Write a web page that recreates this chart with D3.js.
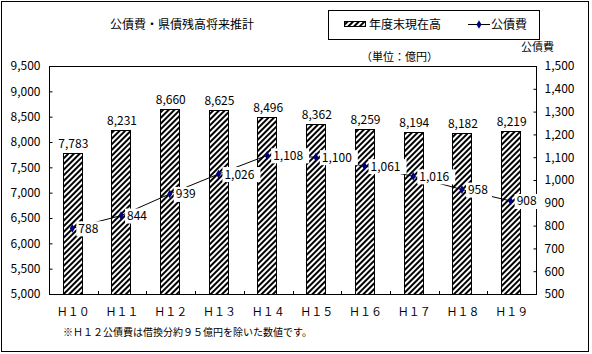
<!DOCTYPE html>
<html lang="ja">
<head>
    <meta charset="UTF-8">
    <title>公債費・県債残高将来推計</title>
    <script src="https://d3js.org/d3.v7.min.js"></script>
    <style>
        body {margin: 0; background: #fff;}
        text {
            font-family: "Noto Sans CJK JP", sans-serif;
            fill: #000;
        }
    </style>
</head>
<body>
<script>
    const width = 592;
    const height = 354;

    // data
    const years = ["Ｈ１０", "Ｈ１１", "Ｈ１２", "Ｈ１３", "Ｈ１４", "Ｈ１５", "Ｈ１６", "Ｈ１７", "Ｈ１８", "Ｈ１９"];
    const balance = [7783, 8231, 8660, 8625, 8496, 8362, 8259, 8194, 8182, 8219];   // 年度末現在高
    const debtCost = [788, 844, 939, 1026, 1108, 1100, 1061, 1016, 958, 908];       // 公債費
    const leftTicks = d3.range(5000, 9501, 500);
    const rightTicks = d3.range(500, 1501, 100);

    const plot = {left: 49, right: 536, top: 66, bottom: 294};

    const svg = d3.select("body").append("svg")
            .attr("width", width).attr("height", height);

    // hatch pattern
    const defs = svg.append("defs");
    defs.append("pattern")
            .attr("id", "hatch")
            .attr("patternUnits", "userSpaceOnUse")
            .attr("width", 4).attr("height", 4)
            .attr("patternTransform", "rotate(45)")
            .call(p => {
                p.append("rect").attr("width", 4).attr("height", 4).attr("fill", "#fff");
                p.append("line").attr("x1", 1).attr("y1", 0).attr("x2", 1).attr("y2", 4)
                        .attr("stroke", "#000").attr("stroke-width", 2);
            });

    // outer border
    svg.append("rect")
            .attr("x", 1.5).attr("y", 1.5)
            .attr("width", 587).attr("height", 350)
            .attr("fill", "none").attr("stroke", "#000");

    const x = d3.scaleBand().domain(years).range([plot.left, plot.right]);
    const yL = d3.scaleLinear().domain([5000, 9500]).range([plot.bottom, plot.top]);
    const yR = d3.scaleLinear().domain([500, 1500]).range([plot.bottom, plot.top]);
    const barW = x.bandwidth() * 0.4;
    const cx = d => x(d) + x.bandwidth() / 2;

    // title
    svg.append("text").attr("x", 110).attr("y", 29)
            .style("font-size", "12px").text("公債費・県債残高将来推計");

    // legend
    const lg = svg.append("g");
    lg.append("rect").attr("x", 328.5).attr("y", 10.5).attr("width", 211).attr("height", 29)
            .attr("fill", "#fff").attr("stroke", "#000");
    lg.append("rect").attr("x", 344.5).attr("y", 21.5).attr("width", 21).attr("height", 5)
            .attr("fill", "url(#hatch)").attr("stroke", "#000");
    lg.append("text").attr("x", 369).attr("y", 29).style("font-size", "12px").text("年度末現在高");
    lg.append("line").attr("x1", 468).attr("x2", 490).attr("y1", 24.5).attr("y2", 24.5)
            .attr("stroke", "#000");
    lg.append("path").attr("d", d3.symbol(d3.symbolDiamond, 22)())
            .attr("transform", "translate(479,24.5)").attr("fill", "#000080");
    lg.append("text").attr("x", 491).attr("y", 29).style("font-size", "12px").text("公債費");

    svg.append("text").attr("x", 361).attr("y", 61).style("font-size", "11px").text("（単位：億円）");
    svg.append("text").attr("x", 521).attr("y", 51).style("font-size", "11px").text("公債費");

    // plot frame
    svg.append("rect")
            .attr("x", plot.left + 0.5).attr("y", plot.top + 0.5)
            .attr("width", plot.right - plot.left).attr("height", plot.bottom - plot.top)
            .attr("fill", "#fff").attr("stroke", "#000");

    // axes
    const axL = svg.append("g").attr("transform", `translate(${plot.left + 0.5},0)`)
            .call(d3.axisLeft(yL).tickValues(leftTicks).tickSize(-3).tickPadding(9)
                    .tickFormat(d3.format(",")));
    const axR = svg.append("g").attr("transform", `translate(${plot.right + 0.5},0)`)
            .call(d3.axisRight(yR).tickValues(rightTicks).tickSize(-3).tickPadding(8)
                    .tickFormat(d3.format(",")));
    [axL, axR].forEach(a => {
        a.select(".domain").remove();
        a.selectAll("text").style("font-size", "12px").attr("font-family", null);
    });

    // category separators on bottom axis
    svg.append("g").selectAll("line")
            .data(years.slice(1))
            .join("line")
            .attr("x1", d => Math.round(x(d)) + 0.5).attr("x2", d => Math.round(x(d)) + 0.5)
            .attr("y1", plot.bottom).attr("y2", plot.bottom - 3)
            .attr("stroke", "#000");

    svg.append("g").selectAll("text")
            .data(years)
            .join("text")
            .attr("x", d => cx(d)).attr("y", plot.bottom + 22)
            .attr("text-anchor", "middle")
            .style("font-size", "11px")
            .text(d => d);

    // bars
    svg.append("g").selectAll("rect")
            .data(balance)
            .join("rect")
            .attr("x", (d, i) => Math.round(cx(years[i]) - barW / 2) - 0.5)
            .attr("y", d => Math.round(yL(d)) + 0.5)
            .attr("width", Math.round(barW))
            .attr("height", d => plot.bottom - Math.round(yL(d)))
            .attr("fill", "url(#hatch)")
            .attr("stroke", "#000");

    svg.append("g").selectAll("text")
            .data(balance)
            .join("text")
            .attr("x", (d, i) => cx(years[i]))
            .attr("y", d => yL(d) - 5)
            .attr("text-anchor", "middle")
            .style("font-size", "12px")
            .text(d => d3.format(",")(d));

    // line
    const line = d3.line()
            .x((d, i) => cx(years[i]) - 1)
            .y(d => yR(d));
    svg.append("path")
            .datum(debtCost)
            .attr("d", line)
            .attr("fill", "none")
            .attr("stroke", "#000")
            .attr("stroke-width", 1);

    const pts = svg.append("g").selectAll("g")
            .data(debtCost)
            .join("g")
            .attr("transform", (d, i) => `translate(${cx(years[i]) - 1},${yR(d)})`);
    pts.append("rect")
            .attr("x", 4).attr("y", -7)
            .attr("width", d => d >= 1000 ? 38 : 26)
            .attr("height", 15)
            .attr("fill", "#fff");
    pts.append("path")
            .attr("d", d3.symbol(d3.symbolDiamond, 22)())
            .attr("fill", "#000080");
    pts.append("text")
            .attr("x", 6).attr("y", 4.5)
            .style("font-size", "12px")
            .text(d => d3.format(",")(d));

    // note
    svg.append("text").attr("x", 63).attr("y", 336)
            .style("font-size", "10px")
            .text("※Ｈ１２公債費は借換分約９５億円を除いた数値です。");
</script>
</body>
</html>
